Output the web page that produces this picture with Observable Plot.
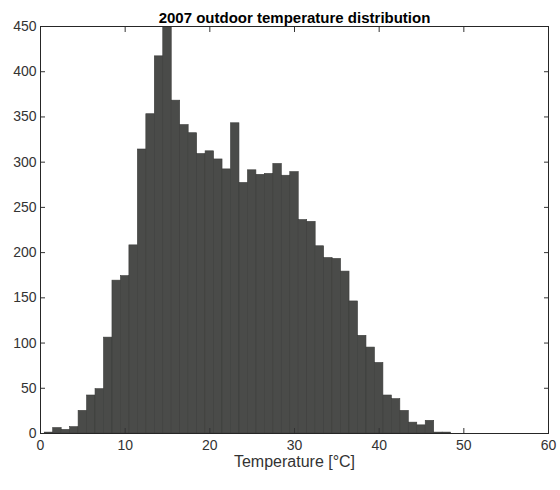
<!DOCTYPE html>
<html>
<head>
<meta charset="utf-8">
<script src="https://cdn.jsdelivr.net/npm/d3@7"></script>
<script src="https://cdn.jsdelivr.net/npm/@observablehq/plot@0.6"></script>
<style>
  body { margin: 0; background: #fff; font-family: "Liberation Sans", Arial, sans-serif; }
</style>
</head>
<body>
<div id="chart"></div>
<script>
// bin centres (°C) and counts, 1 °C bins
const temps = [1, 2, 3, 4, 5, 6, 7, 8, 9, 10, 11, 12, 13, 14, 15, 16, 17, 18, 19, 20,
  21, 22, 23, 24, 25, 26, 27, 28, 29, 30, 31, 32, 33, 34, 35, 36, 37, 38, 39, 40,
  41, 42, 43, 44, 45, 46, 47, 48];
const counts = [1, 6, 4, 7, 25, 42, 49, 106, 169, 174, 208, 314, 353, 417, 460, 368, 341, 332, 309, 312,
  303, 292, 343, 277, 291, 286, 287, 298, 285, 289, 236, 234, 207, 194, 193, 179, 146, 108, 95, 78,
  42, 38, 25, 12, 9, 14, 1, 1];
const xTicks = [0, 10, 20, 30, 40, 50, 60];
const yTicks = d3.range(0, 451, 50);

const bins = temps.map((t, i) => ({x1: t - 0.5, x2: t + 0.5, count: counts[i]}));

const chart = Plot.plot({
  width: 560,
  height: 490,
  marginLeft: 40,
  marginRight: 12,
  marginTop: 26,
  marginBottom: 57,
  style: {fontFamily: "Liberation Sans, Arial, sans-serif", fontSize: "14px", color: "#333"},
  x: {domain: [0, 60]},
  y: {domain: [0, 450]},
  marks: [
    Plot.rectY(bins, {x1: "x1", x2: "x2", y: "count", fill: "#4a4b49", stroke: "#3a3b39", strokeWidth: 0.6, clip: true}),
    Plot.axisX({ticks: xTicks, anchor: "bottom", tickSize: -5, tickPadding: 12, label: null, fontSize: 14}),
    Plot.text(["Temperature [°C]"], {frameAnchor: "bottom", dy: 33, fontSize: 16, fill: "#333"}),
    Plot.axisX({ticks: xTicks, anchor: "top", tickSize: -5, tickFormat: () => "", label: null}),
    Plot.axisY({ticks: yTicks, anchor: "left", tickSize: -5, tickPadding: 9, label: null, fontSize: 14}),
    Plot.axisY({ticks: yTicks, anchor: "right", tickSize: -5, tickFormat: () => "", label: null}),
    Plot.frame({stroke: "#262626", strokeWidth: 1}),
    Plot.text(["2007 outdoor temperature distribution"], {frameAnchor: "top", dy: -14, fontWeight: "bold", fontSize: 15, fill: "#000"})
  ]
});

d3.select("#chart").append(() => chart);
</script>
</body>
</html>
